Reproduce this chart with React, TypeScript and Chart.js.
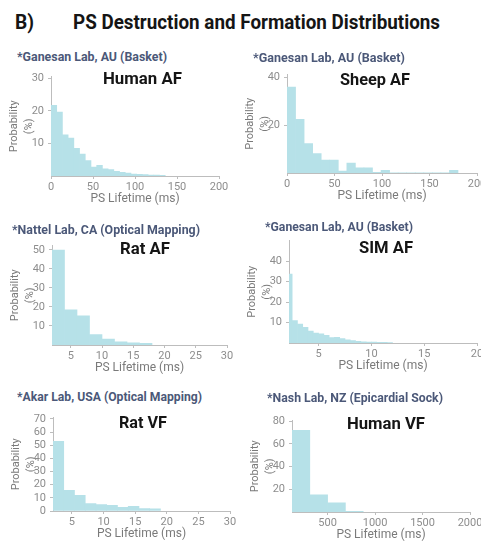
import React, { useEffect, useLayoutEffect, useRef } from 'react';
import { Chart, registerables } from 'chart.js';

Chart.register(...registerables);

// ---------------- text ----------------
const figureLabel = 'B)';
const figureTitle = 'PS Destruction and Formation Distributions';
const xAxisTitle = 'PS Lifetime (ms)';
const yAxisTitle = ['Probability', '(%)'];

// ---------------- Human AF ----------------
const humanAfLab = '*Ganesan Lab, AU (Basket)';
const humanAfTitle = 'Human AF';
const humanAfBinStart = 0;
const humanAfBinWidth = 6.8;
const humanAfValues = [21.7, 19.6, 12.6, 11.6, 8.5, 6.7, 4.7, 2.7, 3.3, 2.2, 2.0, 1.4, 1.1, 0.9, 0.6, 0.5, 0.4, 0.3, 0.25, 0.2];
const humanAfXTicks = [0, 50, 100, 150, 200];
const humanAfYTicks = [10, 20, 30];

// ---------------- Sheep AF ----------------
const sheepAfLab = '*Ganesan Lab, AU (Basket)';
const sheepAfTitle = 'Sheep AF';
const sheepAfBinStart = 0;
const sheepAfBinWidth = 9;
const sheepAfValues = [35.8, 22.4, 12.3, 8.1, 5.4, 5.4, 0.8, 4.1, 2.2, 2.2, 0.3, 1.1, 0.1, 0.1, 0.1, 0.1, 0.1, 0.1, 0.1, 1.1];
const sheepAfXTicks = [0, 50, 100, 150, 200];
const sheepAfYTicks = [20, 40];

// ---------------- Rat AF ----------------
const ratAfLab = '*Nattel Lab, CA (Optical Mapping)';
const ratAfTitle = 'Rat AF';
const ratAfBinStart = 2;
const ratAfBinWidth = 2;
const ratAfValues = [50, 18.5, 15.4, 5.5, 3.1, 1.7, 1.2, 0.9];
const ratAfXTicks = [5, 10, 15, 20, 25, 30];
const ratAfYTicks = [10, 20, 30, 40, 50];

// ---------------- SIM AF ----------------
const simAfLab = '*Ganesan Lab, AU (Basket)';
const simAfTitle = 'SIM AF';
const simAfBinStart = 2;
const simAfBinWidth = 0.5;
const simAfValues = [33.6, 11.0, 9.2, 7.6, 5.8, 4.9, 4.5, 3.7, 2.7, 2.8, 2.1, 1.5, 1.2, 0.8, 0.6, 0.5, 0.4, 0.3, 0.3, 0.2];
const simAfXTicks = [5, 10, 15, 20];
const simAfYTicks = [10, 20, 30, 40];

// ---------------- Rat VF ----------------
const ratVfLab = '*Akar Lab, USA (Optical Mapping)';
const ratVfTitle = 'Rat VF';
const ratVfBinStart = 2;
const ratVfBinWidth = 1.7;
const ratVfValues = [53, 15.8, 11.9, 5.7, 4.9, 4.3, 2.8, 3.5, 1.8, 1.6];
const ratVfXTicks = [5, 10, 15, 20, 25, 30];
const ratVfYTicks = [0, 10, 20, 30, 40, 50, 60, 70];

// ---------------- Human VF ----------------
const humanVfLab = '*Nash Lab, NZ (Epicardial Sock)';
const humanVfTitle = 'Human VF';
const humanVfBinStart = 125;
const humanVfBinWidth = 187.5;
const humanVfValues = [72, 15.1, 8, 0.5];
const humanVfXTicks = [500, 1000, 1500, 2000];
const humanVfYTicks = [20, 40, 60, 80];

// ---------------- style ----------------
const FONT = 'Roboto, "Liberation Sans", sans-serif';
const BAR_COLOR = '#b6e1e8';
const AXIS_COLOR = '#bdbdbd';
const TICK_COLOR = '#8d8d8d';
const AXIS_TITLE_COLOR = '#7a7a7a';
const LAB_COLOR = '#4b5878';
const TITLE_COLOR = '#151515';
const Y_AXIS_W = 50;
const X_AXIS_H = 30;
const PAD_TOP = 8;
const PAD_RIGHT = 14;

type Panel = {
  values: number[];
  binStart: number;
  binWidth: number;
  xTicks: number[];
  yTicks: number[];
  xMin: number;
  xMax: number;
  yMax: number;
  plot: { left: number; top: number; right: number; bottom: number };
  lab: string;
  labPos: { left: number; top: number; width: number };
  title: string;
  titlePos: { left: number; top: number; width: number };
};

const panels: Panel[] = [
  {
    values: humanAfValues, binStart: humanAfBinStart, binWidth: humanAfBinWidth,
    xTicks: humanAfXTicks, yTicks: humanAfYTicks, xMin: 0, xMax: 200, yMax: 30.5,
    plot: { left: 51, top: 74, right: 219, bottom: 176 },
    lab: humanAfLab, labPos: { left: 17, top: 50.5, width: 150 },
    title: humanAfTitle, titlePos: { left: 103, top: 71, width: 79 },
  },
  {
    values: sheepAfValues, binStart: sheepAfBinStart, binWidth: sheepAfBinWidth,
    xTicks: sheepAfXTicks, yTicks: sheepAfYTicks, xMin: 0, xMax: 200, yMax: 41,
    plot: { left: 287, top: 72, right: 477, bottom: 173 },
    lab: sheepAfLab, labPos: { left: 253, top: 51.5, width: 152 },
    title: sheepAfTitle, titlePos: { left: 340, top: 71.5, width: 70 },
  },
  {
    values: ratAfValues, binStart: ratAfBinStart, binWidth: ratAfBinWidth,
    xTicks: ratAfXTicks, yTicks: ratAfYTicks, xMin: 2, xMax: 30, yMax: 52.3,
    plot: { left: 52, top: 243, right: 227, bottom: 345 },
    lab: ratAfLab, labPos: { left: 12, top: 223.5, width: 188 },
    title: ratAfTitle, titlePos: { left: 120, top: 241, width: 50 },
  },
  {
    values: simAfValues, binStart: simAfBinStart, binWidth: simAfBinWidth,
    xTicks: simAfXTicks, yTicks: simAfYTicks, xMin: 2.2, xMax: 20, yMax: 50,
    plot: { left: 289, top: 238, right: 477, bottom: 343 },
    lab: simAfLab, labPos: { left: 265, top: 220.5, width: 148 },
    title: simAfTitle, titlePos: { left: 359, top: 240, width: 54 },
  },
  {
    values: ratVfValues, binStart: ratVfBinStart, binWidth: ratVfBinWidth,
    xTicks: ratVfXTicks, yTicks: ratVfYTicks, xMin: 2, xMax: 30, yMax: 71,
    plot: { left: 53, top: 415, right: 230, bottom: 511 },
    lab: ratVfLab, labPos: { left: 17, top: 390.5, width: 185 },
    title: ratVfTitle, titlePos: { left: 119, top: 415, width: 48 },
  },
  {
    values: humanVfValues, binStart: humanVfBinStart, binWidth: humanVfBinWidth,
    xTicks: humanVfXTicks, yTicks: humanVfYTicks, xMin: 125, xMax: 2000, yMax: 80.5,
    plot: { left: 292, top: 418, right: 470, bottom: 512 },
    lab: humanVfLab, labPos: { left: 267, top: 391.5, width: 176 },
    title: humanVfTitle, titlePos: { left: 347, top: 416, width: 78 },
  },
];

function FitText(props: {
  text: string; left: number; top: number; size: number; width: number;
  color: string; weight: number;
}) {
  const ref = useRef<HTMLDivElement>(null);
  useLayoutEffect(() => {
    const el = ref.current;
    if (!el) return;
    const fit = () => {
      el.style.transform = 'none';
      const w = el.getBoundingClientRect().width;
      if (w > 0) el.style.transform = `scaleX(${props.width / w})`;
    };
    fit();
    if ((document as any).fonts && (document as any).fonts.ready) {
      (document as any).fonts.ready.then(fit);
    }
  }, []);
  return (
    <div
      ref={ref}
      style={{
        position: 'absolute', left: props.left, top: props.top,
        fontSize: props.size, lineHeight: `${props.size}px`, fontFamily: FONT,
        fontWeight: props.weight, color: props.color, whiteSpace: 'nowrap',
        transformOrigin: '0 0',
      }}
    >
      {props.text}
    </div>
  );
}

function HistPanel({ p }: { p: Panel }) {
  const ref = useRef<HTMLCanvasElement>(null);
  const cLeft = p.plot.left - Y_AXIS_W;
  const cTop = p.plot.top - PAD_TOP;
  const cWidth = p.plot.right + PAD_RIGHT - cLeft;
  const cHeight = p.plot.bottom + X_AXIS_H - cTop;

  useEffect(() => {
    if (!ref.current) return;
    const data = p.values.map((v, i) => ({ x: p.binStart + (i + 0.5) * p.binWidth, y: v }));
    const tickFont = { family: FONT, size: 11 };
    const chart = new Chart(ref.current, {
      type: 'bar',
      data: {
        datasets: [
          {
            data: data as any,
            backgroundColor: BAR_COLOR,
            borderWidth: 0,
            barPercentage: 1,
            categoryPercentage: 1,
            grouped: false,
          } as any,
        ],
      },
      options: {
        animation: false,
        responsive: false,
        maintainAspectRatio: false,
        layout: { padding: { top: PAD_TOP, right: PAD_RIGHT, left: 0, bottom: 0 } },
        plugins: { legend: { display: false }, tooltip: { enabled: false }, title: { display: false } },
        scales: {
          x: {
            type: 'linear',
            min: p.xMin,
            max: p.xMax,
            offset: false,
            afterBuildTicks: (s: any) => { s.ticks = p.xTicks.map((v) => ({ value: v })); },
            afterFit: (s: any) => { s.height = X_AXIS_H; },
            grid: { display: true, drawOnChartArea: false, drawTicks: true, tickLength: 3, color: AXIS_COLOR, offset: false },
            border: { display: true, color: AXIS_COLOR, width: 1 },
            ticks: {
              font: tickFont, color: TICK_COLOR, padding: 1.5, maxRotation: 0, autoSkip: false,
              callback: (v: any) => String(v),
            },
            title: {
              display: true, text: xAxisTitle, color: AXIS_TITLE_COLOR,
              font: { family: FONT, size: 12 }, padding: 0,
            },
          },
          y: {
            type: 'linear',
            min: 0,
            max: p.yMax,
            afterBuildTicks: (s: any) => { s.ticks = p.yTicks.map((v) => ({ value: v })); },
            afterFit: (s: any) => { s.width = Y_AXIS_W; },
            grid: { display: true, drawOnChartArea: false, drawTicks: true, tickLength: 3, color: AXIS_COLOR },
            border: { display: true, color: AXIS_COLOR, width: 1 },
            ticks: {
              font: tickFont, color: TICK_COLOR, padding: 4, autoSkip: false,
              callback: (v: any) => String(v),
            },
            title: {
              display: true, text: yAxisTitle, color: AXIS_TITLE_COLOR,
              font: { family: FONT, size: 11, lineHeight: 1.36 }, padding: { top: 5.5, bottom: 0 },
            },
          },
        },
      } as any,
    });
    return () => chart.destroy();
  }, []);

  return (
    <canvas
      ref={ref}
      width={cWidth}
      height={cHeight}
      style={{ position: 'absolute', left: cLeft, top: cTop, width: cWidth, height: cHeight }}
    />
  );
}

export default function App() {
  return (
    <div
      style={{
        position: 'absolute', left: 0, top: 0, width: 481, height: 543,
        overflow: 'hidden', background: '#ffffff',
      }}
    >
      <FitText text={figureLabel} left={15} top={11.5} size={21} width={19} color={TITLE_COLOR} weight={700} />
      <FitText text={figureTitle} left={73} top={11.5} size={21} width={367} color={TITLE_COLOR} weight={700} />
      {panels.map((p, i) => (
        <React.Fragment key={i}>
          <HistPanel p={p} />
          <FitText text={p.lab} left={p.labPos.left} top={p.labPos.top} size={12} width={p.labPos.width} color={LAB_COLOR} weight={700} />
          <FitText text={p.title} left={p.titlePos.left} top={p.titlePos.top} size={16.5} width={p.titlePos.width} color={TITLE_COLOR} weight={700} />
        </React.Fragment>
      ))}
    </div>
  );
}
